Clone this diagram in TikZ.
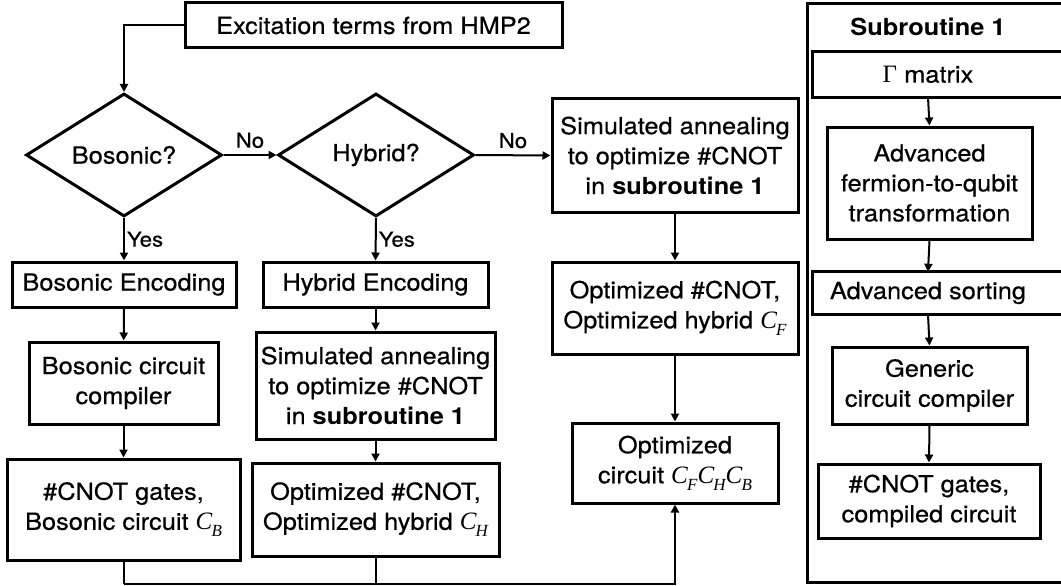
\documentclass[tikz,border=0pt]{standalone}
\usepackage{fontspec}
\setmainfont[FakeStretch=1.08, UprightFeatures={FakeBold=0.5}]{TeX Gyre Heros}
\newfontfamily\tmsf{Liberation Serif}
\usetikzlibrary{shapes.geometric,arrows.meta}
% italic serif circuit symbol with a lowered index
\newcommand\Cv[1]{{\tmsf\itshape\fontsize{25}{30}\selectfont C\kern-0.03em\raisebox{-0.28em}{\fontsize{17}{17}\selectfont #1}}}

\begin{document}
\begin{tikzpicture}[x=1pt,y=-1pt,
  every node/.style={font=\fontsize{23.5}{30}\selectfont, align=center, inner sep=0pt},
  blk/.style={draw, rectangle, line width=3pt},
  dec/.style={draw, diamond, line width=3pt, minimum width=196pt, minimum height=123pt},
  arr/.style={line width=2pt, -{Triangle[length=8pt,width=8pt]}},
  ln/.style={line width=2pt},
  lab/.style={font=\fontsize{20.5}{24}\selectfont}]
\useasboundingbox (0,0) rectangle (1061,586);
\clip (0,0) rectangle (1061,586);

% main flow
\node[blk, minimum width=377pt, minimum height=45pt] (top) at (373.5,25.5) {Excitation terms from HMP2};
\node[dec] (bos) at (124,155) {Bosonic?};
\node[dec] (hyb) at (376,155) {Hybrid?};

\node[blk, minimum width=224pt, minimum height=45pt] (benc) at (124,284.5) {Bosonic Encoding};
\node[blk, minimum width=189pt, minimum height=82pt] (bcc) at (123.5,383) {Bosonic circuit\\compiler};
\node[blk, minimum width=233pt, minimum height=101pt] (bout) at (123.5,509.5) {\#CNOT gates,\\Bosonic circuit \Cv{B}};

\node[blk, minimum width=225pt, minimum height=45pt] (henc) at (375.5,284.5) {Hybrid Encoding};
\node[blk, minimum width=239pt, minimum height=107pt] (hsa) at (375.5,385.5) {Simulated annealing\\to optimize \#CNOT\\in \textbf{subroutine 1}};
\node[blk, minimum width=247pt, minimum height=93pt] (hout) at (375.5,509.5) {Optimized \#CNOT,\\Optimized hybrid \Cv{H}};

\node[blk, minimum width=246pt, minimum height=113pt] (fsa) at (675,155.5) {Simulated annealing\\to optimize \#CNOT\\in \textbf{subroutine 1}};
\node[blk, minimum width=246pt, minimum height=92pt] (fout) at (675,308) {Optimized \#CNOT,\\Optimized hybrid \Cv{F}};
\node[blk, minimum width=206pt, minimum height=80pt] (all) at (675,463) {Optimized\\circuit \Cv{F}\Cv{H}\Cv{B}};

\draw[arr] (top.west) -| (bos.north);
\draw[arr] (bos.east) -- node[lab, above=6pt] {No} (hyb.west);
\draw[arr] (hyb.east) -- node[lab, above=6pt] {No} (fsa.west);
\draw[arr] (bos.south) -- node[lab, right=2pt, pos=0.5] {Yes} (benc.north);
\draw[arr] (hyb.south) -- node[lab, right=2pt, pos=0.5] {Yes} (henc.north);
\draw[arr] (benc) -- (bcc);
\draw[arr] (bcc) -- (bout);
\draw[arr] (henc) -- (hsa);
\draw[arr] (hsa) -- (hout);
\draw[arr] (fsa) -- (fout);
\draw[arr] (fout) -- (all);

\coordinate (jb) at (123.5,584);
\coordinate (jh) at (375.5,584);
\draw[ln] (bout.south) -- (jb);
\draw[ln] (hout.south) -- (jh);
\draw[arr] (jb) -| (all.south);

% subroutine panel
\draw[line width=3pt] (807,4) rectangle (1080,582);
\node[font=\bfseries\fontsize{23.5}{30}\selectfont] (stitle) at (928,27) {Subroutine 1};
\node[minimum width=230pt, minimum height=45pt] (gam) at (928,74.5) {{\tmsf\fontsize{25}{30}\selectfont Γ} matrix};
\draw[line width=3pt] (gam.north west) rectangle ([xshift=40pt]gam.south east);
\node[blk, minimum width=205pt, minimum height=112pt] (f2q) at (929.5,183) {Advanced\\fermion-to-qubit\\transformation};
\node[minimum width=230pt, minimum height=42pt] (sort) at (928,293) {Advanced sorting};
\draw[line width=3pt] (sort.north west) rectangle ([xshift=40pt]sort.south east);
\node[blk, minimum width=195pt, minimum height=77pt] (gcc) at (929.5,385.5) {Generic\\circuit compiler};
\node[blk, minimum width=222pt, minimum height=74pt] (sout) at (929,501) {\#CNOT gates,\\compiled circuit};

\draw[arr] (gam.south) -- (f2q.north);
\draw[arr] (f2q.south) -- (sort.north);
\draw[arr] (sort.south) -- (gcc.north);
\draw[arr] (gcc.south) -- (sout.north);
\end{tikzpicture}
\end{document}
